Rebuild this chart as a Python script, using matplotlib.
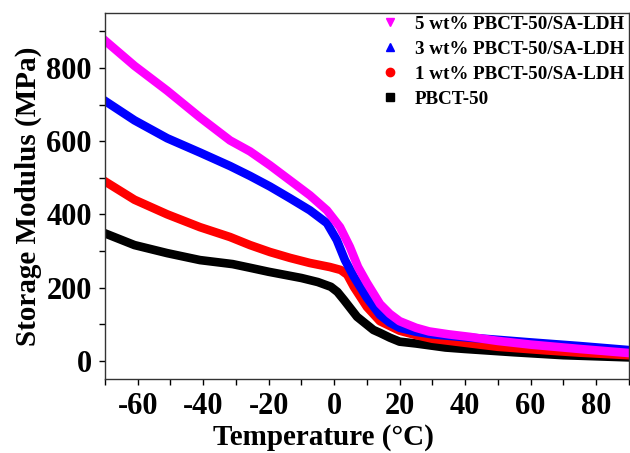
import numpy as np
import matplotlib
matplotlib.use('Agg')
import matplotlib.pyplot as plt
from matplotlib.lines import Line2D

plt.rcParams['font.family'] = ['Liberation Serif', 'DejaVu Serif']
plt.rcParams['font.weight'] = 'bold'
plt.rcParams['axes.unicode_minus'] = False

# values (temperature in C, modulus in MPa)
t_5 = [-70, -61, -51, -41, -31.8, -25.7, -19.6, -13.5, -7.4, -2.2, 1.8, 4.8, 7.3, 10, 14, 17, 20, 25, 29,
       35, 41.5, 50, 60, 75, 90]
e_5 = [875, 806, 738, 665, 602, 572, 534, 493, 452, 411, 365, 311, 256, 213, 155, 128, 108, 90, 80,
       72, 65, 54, 44, 32, 21]

t_3 = [-70, -61, -51, -41, -31.8, -25.7, -19.6, -13.5, -7.4, -2.2, 0.8, 3.3, 6, 10, 14, 17, 20, 25, 30,
       40, 50, 60, 75, 90]
e_3 = [710, 657, 608, 569, 532, 505, 476, 444, 411, 376, 330, 275, 230, 172, 125, 104, 90, 79, 72,
       64, 57, 50, 40, 29]

t_1 = [-70, -61, -51, -41, -31.8, -25.7, -19.6, -13.5, -7.4, -1.3, 2, 4, 6, 10, 14, 20, 25, 30, 39,
       50, 65, 75, 90]
e_1 = [490, 440, 400, 365, 338, 316, 297, 281, 267, 256, 248, 235, 202, 147, 108, 82, 70, 60, 50,
       38, 28, 22, 15]

t_0 = [-70, -61, -51, -41, -31, -25.7, -20, -10, -5, -1, 1, 3, 7, 12, 14, 17, 20, 25, 34, 40, 55, 70, 90]
e_0 = [348, 316, 294, 275, 264, 254, 243, 226, 215, 202, 188, 166, 120, 84, 76, 63, 52, 47, 36, 32,
       23, 15, 9]

labels = ['5 wt% PBCT-50/SA-LDH', '3 wt% PBCT-50/SA-LDH', '1 wt% PBCT-50/SA-LDH', 'PBCT-50']
colors = ['#ff00ff', '#0000ff', '#ff0000', '#000000']
markers = ['v', '^', 'o', 's']

fig = plt.figure(figsize=(6.3, 4.53), dpi=100)
ax = fig.add_axes([0.1667, 0.1634, 0.8313, 0.8076])

# drawn back to front like the original
ax.plot(t_0, e_0, color=colors[3], lw=6.2, solid_joinstyle='round')
ax.plot(t_1, e_1, color=colors[2], lw=6.2, solid_joinstyle='round')
ax.plot(t_3, e_3, color=colors[1], lw=6.2, solid_joinstyle='round')
ax.plot(t_5, e_5, color=colors[0], lw=6.2, solid_joinstyle='round')

ax.set_xlim(-70, 90)
ax.set_ylim(-50, 950)
ax.set_xticks(np.arange(-60, 81, 20))
ax.set_xticks(np.arange(-70, 91, 10), minor=True)
ax.set_yticks(np.arange(0, 801, 200))
ax.set_yticks(np.arange(0, 901, 100), minor=True)
ax.tick_params(which='major', length=4.5, width=1, labelsize=22, pad=5)
ax.tick_params(which='minor', length=4, width=1)
for sp in ax.spines.values():
    sp.set_linewidth(1)
    sp.set_color('#333333')

ax.set_xlabel('Temperature (°C)', fontsize=21, fontweight='bold')
ax.xaxis.set_label_coords(0.418, -0.122)
ax.set_ylabel('Storage Modulus (MPa)', fontsize=21, fontweight='bold', labelpad=3)

handles = [Line2D([], [], ls='none', marker=m, color=c, markersize=6) for m, c in zip(markers, colors)]
ax.legend(handles, labels, loc='upper right', bbox_to_anchor=(1.02, 1.035), frameon=False,
          prop={'size': 13.7, 'weight': 'bold'}, labelspacing=0.4, handlelength=1.0,
          handletextpad=0.8, borderpad=0.3)

fig.savefig('out.png', dpi=100)
